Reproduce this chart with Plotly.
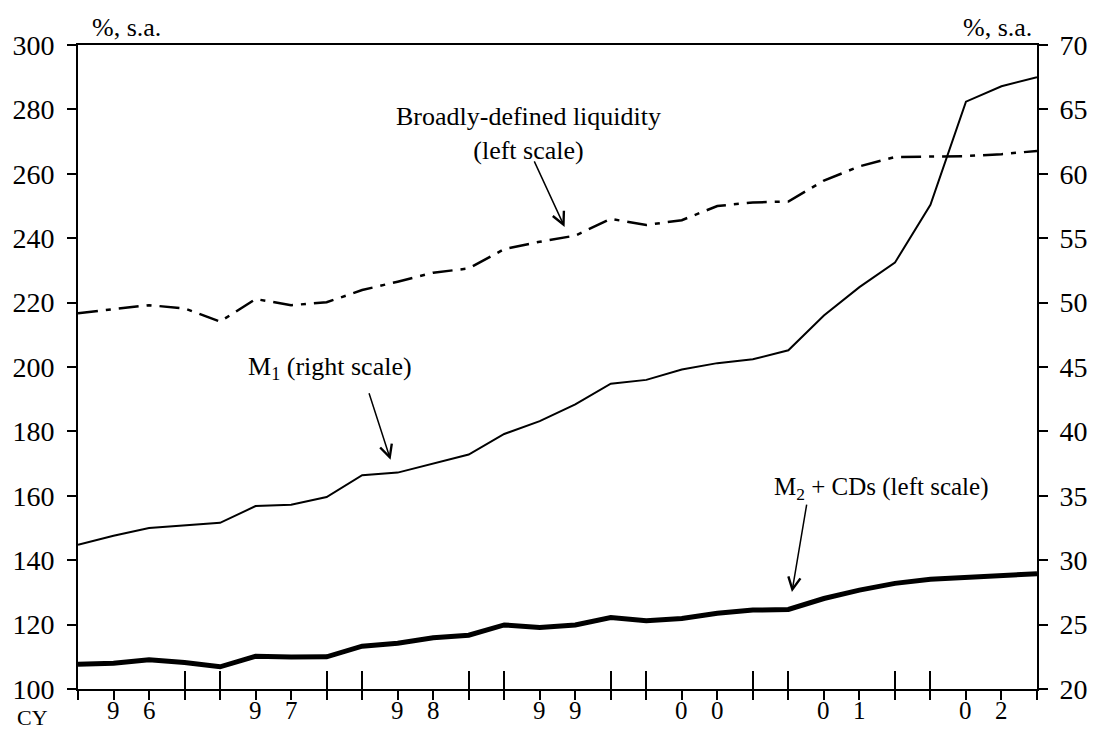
import plotly.graph_objects as go

quarters = list(range(28))  # 1996Q1 .. 2002Q4
years = ["96", "97", "98", "99", "00", "01", "02"]
long_ticks = [3, 4, 7, 8, 11, 12, 15, 16, 19, 20, 23, 24]

liquidity = [216.7, 217.9, 219.2, 218.2, 214.1, 221.1, 219.2, 220.1, 223.9, 226.5,
             229.3, 230.6, 236.6, 238.9, 240.8, 246.0, 244.1, 245.6, 250.0, 251.1,
             251.4, 257.9, 262.3, 265.2, 265.3, 265.5, 266.1, 267.1]
m1 = [31.2, 31.9, 32.5, 32.7, 32.9, 34.2, 34.3, 34.9, 36.6, 36.8,
      37.5, 38.2, 39.8, 40.8, 42.1, 43.7, 44.0, 44.8, 45.3, 45.6,
      46.3, 49.0, 51.2, 53.1, 57.6, 65.6, 66.8, 67.5]
m2cd = [107.7, 108.0, 109.1, 108.2, 106.9, 110.2, 109.9, 110.0, 113.3, 114.2,
        115.9, 116.7, 119.9, 119.1, 119.9, 122.2, 121.2, 121.9, 123.5, 124.5,
        124.7, 128.1, 130.7, 132.8, 134.1, 134.6, 135.0, 135.8]

FONT = "Liberation Serif"
fig = go.Figure()
fig.add_trace(go.Scatter(x=quarters, y=liquidity, mode="lines", yaxis="y",
                         line=dict(color="black", width=2.5, dash="20px,8px,5px,8px"),
                         hoverinfo="skip", showlegend=False))
fig.add_trace(go.Scatter(x=quarters, y=m1, mode="lines", yaxis="y2",
                         line=dict(color="black", width=2),
                         hoverinfo="skip", showlegend=False))
fig.add_trace(go.Scatter(x=quarters, y=m2cd, mode="lines", yaxis="y",
                         line=dict(color="black", width=5),
                         hoverinfo="skip", showlegend=False))
# invisible trace to activate the overlay x axis carrying the long ticks
fig.add_trace(go.Scatter(x=[0], y=[100], xaxis="x2", yaxis="y", mode="markers",
                         marker=dict(opacity=0), hoverinfo="skip", showlegend=False))

fig.update_layout(
    width=1100, height=745,
    margin=dict(l=77, r=55, t=45, b=56),
    plot_bgcolor="white", paper_bgcolor="white",
    font=dict(family=FONT, size=24, color="black"),
    xaxis=dict(range=[0, 27], tickvals=quarters, ticks="outside", ticklen=9,
               tickwidth=2, tickcolor="black", showticklabels=False,
               showline=True, linewidth=2, linecolor="black", mirror=True,
               showgrid=False, zeroline=False),
    xaxis2=dict(range=[0, 27], overlaying="x", anchor="y", side="bottom",
                tickvals=long_ticks, ticks="inside", ticklen=18, tickwidth=2,
                tickcolor="black", showticklabels=False, showline=False,
                showgrid=False, zeroline=False),
    yaxis=dict(range=[100, 300], dtick=20, ticks="outside", ticklen=9, tickwidth=2,
               tickcolor="black", showline=True, linewidth=2, linecolor="black",
               showgrid=False, zeroline=False, tickfont=dict(size=28),
               ticklabelstandoff=7),
    yaxis2=dict(range=[20, 70], dtick=5, overlaying="y", side="right", anchor="x",
                ticks="outside", ticklen=9, tickwidth=2, tickcolor="black",
                showline=True, linewidth=2, linecolor="black",
                showgrid=False, zeroline=False, tickfont=dict(size=28),
                ticklabelstandoff=6),
)

ann = []
for k, yr in enumerate(years):
    for j, ch in enumerate(yr):
        ann.append(dict(x=4 * k + 1 + j, y=0, xref="x", yref="paper", text=ch,
                        showarrow=False, xanchor="center", yanchor="top", yshift=-6,
                        font=dict(size=25)))
ann.append(dict(x=-0.047, y=0, xref="paper", yref="paper", text="CY",
                showarrow=False, xanchor="center", yanchor="top", yshift=-14,
                font=dict(size=22)))
ann.append(dict(x=0.012, y=1, xref="paper", yref="paper", text="%, s.a.",
                showarrow=False, xanchor="left", yanchor="bottom", yshift=1,
                font=dict(size=26)))
ann.append(dict(x=0.997, y=1, xref="paper", yref="paper", text="%, s.a.",
                showarrow=False, xanchor="right", yanchor="bottom", yshift=1,
                font=dict(size=26)))
# series labels
ann.append(dict(x=0.470, y=0.863, xref="paper", yref="paper",
                text="Broadly-defined liquidity<br>(left scale)",
                showarrow=False, xanchor="center", yanchor="middle",
                font=dict(size=26), align="center"))
ann.append(dict(x=0.263, y=0.498, xref="paper", yref="paper",
                text="M<sub>1</sub> (right scale)", showarrow=False,
                xanchor="center", yanchor="middle", font=dict(size=26)))
ann.append(dict(x=0.837, y=0.312, xref="paper", yref="paper",
                text="M<sub>2</sub> + CDs (left scale)", showarrow=False,
                xanchor="center", yanchor="middle", font=dict(size=25)))
# arrows
ann.append(dict(x=13.7, y=243.5, xref="x", yref="y", ax=-31, ay=-67, text="",
                showarrow=True, arrowhead=5, arrowsize=1.6, arrowwidth=1.5, arrowcolor="black"))
ann.append(dict(x=8.8, y=37.8, xref="x", yref="y2", ax=-22, ay=-68, text="",
                showarrow=True, arrowhead=5, arrowsize=1.6, arrowwidth=1.5, arrowcolor="black"))
ann.append(dict(x=20.1, y=130.1, xref="x", yref="y", ax=15, ay=-89, text="",
                showarrow=True, arrowhead=5, arrowsize=1.6, arrowwidth=1.5, arrowcolor="black"))
fig.update_layout(annotations=ann)

fig.write_html("out.html",
               config={"displayModeBar": False},
               post_script="document.body.style.margin='0px';"
                           "document.body.style.overflow='hidden';")
